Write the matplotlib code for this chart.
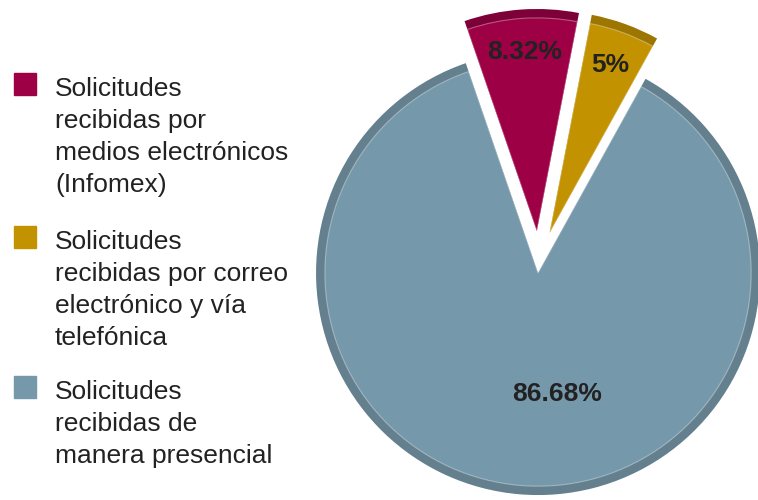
import matplotlib.pyplot as plt
import matplotlib.patches as mpatches
import numpy as np

# Data
categorias = [
    "Solicitudes\nrecibidas por\nmedios electrónicos\n(Infomex)",
    "Solicitudes\nrecibidas por correo\nelectrónico y vía\ntelefónica",
    "Solicitudes\nrecibidas de\nmanera presencial",
]
porcentajes = [8.32, 5.0, 86.68]

colores = ["#9e0046", "#c39200", "#7598ab"]
colores_borde = ["#7e0038", "#9c7600", "#64808f"]

W, H = 758, 500
fig = plt.figure(figsize=(W / 100, H / 100), dpi=100)
ax = fig.add_axes([0, 0, 1, 1])

explode = [0.14, 0.14, 0.05]


def fmt(p):
    return f"{p:.2f}".rstrip("0").rstrip(".") + "%"


# rim (dark outer wedges)
ax.pie(porcentajes, colors=colores_borde, startangle=109, counterclock=False,
       explode=explode, radius=1.0, wedgeprops=dict(linewidth=0))

# faces
wedges, _, autotexts = ax.pie(
    porcentajes, colors=colores, startangle=109, counterclock=False,
    explode=explode, radius=0.96, autopct=fmt, pctdistance=0.84,
    wedgeprops=dict(linewidth=0.8, edgecolor=(1, 1, 1, 0.35)),
    textprops=dict(fontsize=19, fontweight="bold", color="#222222",
                   family="Liberation Sans"))

# move the big label lower inside its slice
w = wedges[2]
ang = np.deg2rad(-81)
autotexts[2].set_position((w.center[0] + 0.55 * np.cos(ang),
                           w.center[1] + 0.55 * np.sin(ang)))

# 1 unit = 222 px, pie centre at (539, 262) px
s = 222.0
cx, cy = 539, 262
ax.set_aspect("equal")
ax.axis("off")
ax.set_xlim(-cx / s, (W - cx) / s)
ax.set_ylim(-(H - cy) / s, cy / s)

# legend drawn by hand
legend_tops = [73, 226, 376]
for cat, col, top in zip(categorias, colores, legend_tops):
    fig.patches.append(mpatches.Rectangle(
        (14 / W, 1 - (top + 22) / H), 22 / W, 22 / H,
        transform=fig.transFigure, color=col, figure=fig))
    fig.text(55 / W, 1 - (top + 4) / H, cat, ha="left", va="top",
             fontsize=19, family="Liberation Sans", color="#222222",
             linespacing=1.42)

fig.savefig("out.png", dpi=100)
